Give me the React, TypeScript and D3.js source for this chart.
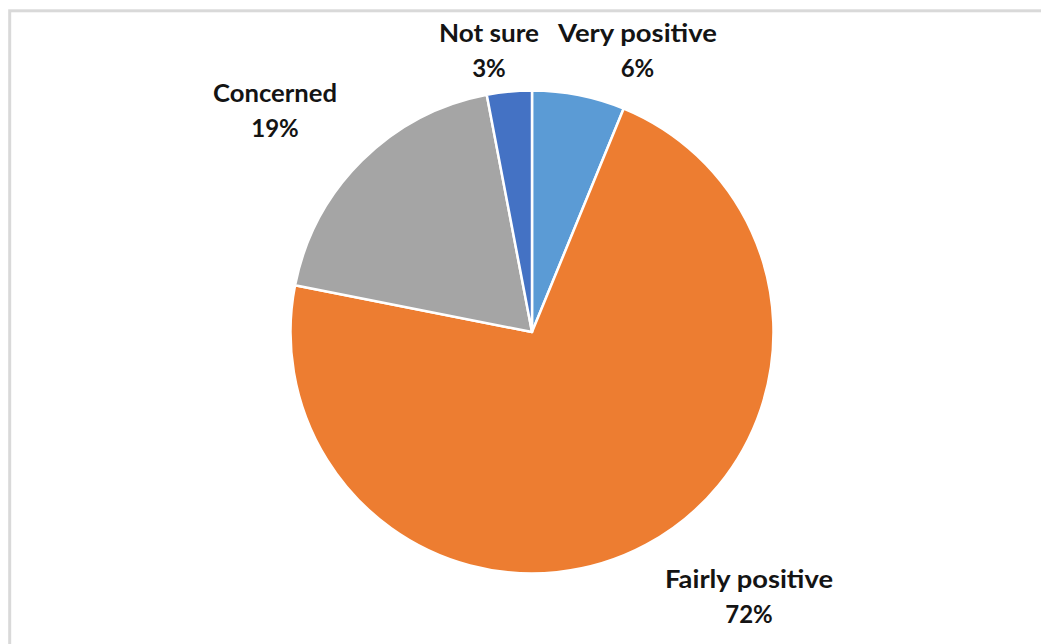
import React from "react";
import * as d3 from "d3";

const categories = ["Very positive", "Fairly positive", "Concerned", "Not sure"];
const values = [6.2, 71.9, 18.9, 3.0];
const colors = ["#5B9BD5", "#ED7D31", "#A5A5A5", "#4472C4"];

// label layout (offset of label centre from pie centre, name width)
const labelLayout: Record<string, { dx: number; dy: number; w: number }> = {
  "Very positive": { dx: 105.5, dy: -290, w: 159 },
  "Fairly positive": { dx: 217, dy: 256, w: 168 },
  "Concerned": { dx: -257, dy: -230, w: 124 },
  "Not sure": { dx: -43, dy: -290, w: 100 },
};

const W = 1041;
const H = 644;
const cx = 532;
const cy = 332;
const R = 241.5;

export default function App() {
  const data = categories.map((c, i) => ({ name: c, value: values[i], color: colors[i] }));
  const pie = d3.pie<any>().sort(null).value((d: any) => d.value);
  const arcs = pie(data);
  const arc = d3.arc<any>().innerRadius(0).outerRadius(R);
  const total = d3.sum(values);
  return (
    <svg width={W} height={H} style={{ display: "block", position: "absolute", left: 0, top: 0 }}>
      <rect x={9.7} y={10.8} width={W + 20} height={H + 20} fill="#fff" stroke="#d9d9d9" strokeWidth={3} />
      <g transform={`translate(${cx},${cy})`}>
        {arcs.map((a, i) => (
          <path key={i} d={arc(a) as string} fill={a.data.color} stroke="#fff" strokeWidth={2.5} strokeLinejoin="round" />
        ))}
        {arcs.map((a, i) => {
          const L = labelLayout[a.data.name];
          const pct = Math.round((a.data.value / total) * 100) + "%";
          return (
            <g key={"l" + i} fontFamily="Lato, 'Open Sans', sans-serif" fontWeight="bold" fontSize={24} fill="#141414" textAnchor="middle">
              <text x={L.dx} y={L.dy} textLength={L.w} lengthAdjust="spacingAndGlyphs">{a.data.name}</text>
              <text x={L.dx} y={L.dy + 35}>{pct}</text>
            </g>
          );
        })}
      </g>
    </svg>
  );
}
